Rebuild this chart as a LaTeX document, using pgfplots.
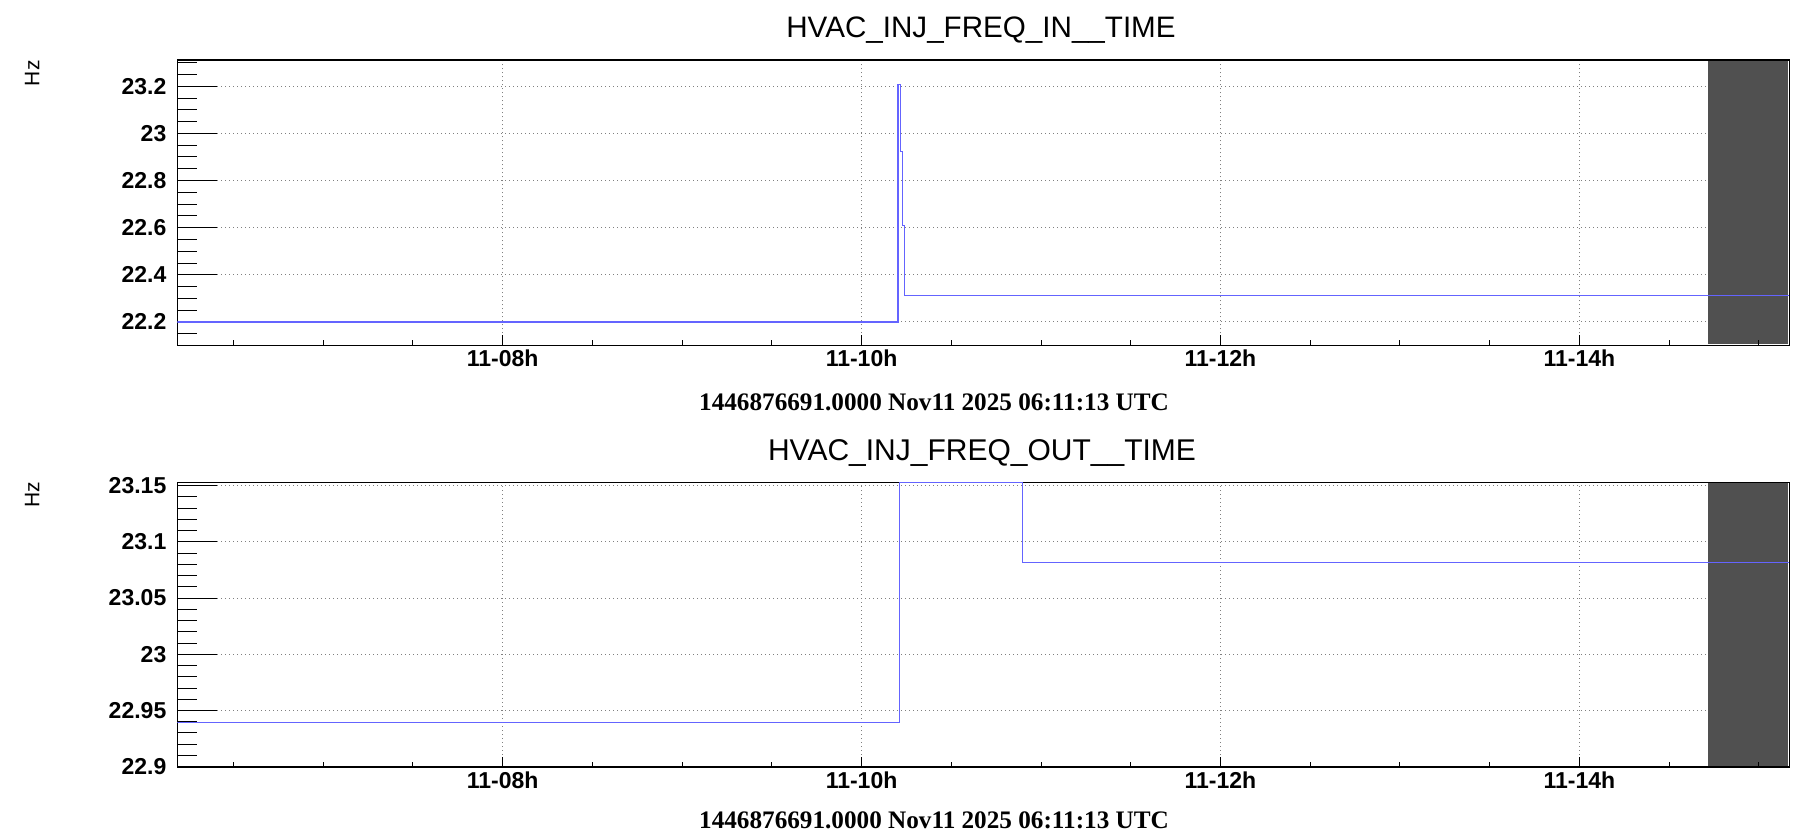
\documentclass[border=0pt]{standalone}
\usepackage{fontspec}
\setmainfont{Liberation Sans}
\newfontfamily\serifbf{Liberation Serif}
\usepackage{pgfplots}
\pgfplotsset{compat=1.18}

\definecolor{rootblue}{RGB}{100,100,255}
\definecolor{hatch}{RGB}{80,80,80}

\pgfplotsset{
  rootbase/.style={
    scale only axis, width=806pt,
    xmin=6.1869, xmax=15.17,
    anchor=south west, clip=true,
  },
  rootstyle/.style={
    rootbase,
    axis line style={line width=0.8pt},
    tick style={line width=0.5pt, black},
    xtick={8,10,12,14}, xticklabels={11-08h,11-10h,11-12h,11-14h},
    xtick style={draw=none},
    xtick pos=bottom, ytick pos=left, tick align=inside,
    major tick length=20pt, minor tick length=10pt,
    xmajorgrids, ymajorgrids,
    major grid style={gray, line width=0.5pt, dash pattern=on 0.5pt off 1.5pt},
    ticklabel style={font=\fontsize{11.5}{11.5}\selectfont\bfseries},
    /pgf/number format/assume math mode=true,
    xticklabel style={anchor=north, inner sep=0pt, yshift=-2.3pt},
    yticklabel style={anchor=east, inner sep=0pt, xshift=-5.3pt},
  },
  xtickoverlay/.style={
    rootbase,
    axis line style={draw=none},
    ytick=\empty,
    xtick={8,10,12,14}, xticklabels={},
    minor xtick={6.5,7,...,15},
    xtick pos=bottom, tick align=inside,
    major tick length=5pt, minor tick length=2.5pt,
    tick style={line width=0.5pt, black},
  },
}

\begin{document}
\begin{tikzpicture}
\path[use as bounding box] (0,0) rectangle (904.5pt,418.5pt);

% ---------------- top panel ----------------
\begin{axis}[rootstyle, at={(88.65pt,245.85pt)}, height=142.5pt,
  ymin=22.101, ymax=23.31,
  ytick={22.2,22.4,22.6,22.8,23,23.2},
  yticklabels={22.2,22.4,22.6,22.8,23,23.2},
  minor ytick={22.15,22.25,22.3,22.35,22.45,22.5,22.55,22.65,22.7,22.75,22.85,22.9,22.95,23.05,23.1,23.15,23.25,23.3},
]
\addplot[fill=hatch, draw=none] coordinates {(14.719,22.1045) (15.165,22.1045) (15.165,23.3066) (14.719,23.3066)} -- cycle;
\addplot[const plot mark left, rootblue, line width=0.55pt] coordinates {
(6.1869,22.2) (10.203,23.208) (10.217,22.925) (10.228,22.61) (10.240,22.313) (15.17,22.313)};
\end{axis}
\begin{axis}[xtickoverlay, at={(88.65pt,245.85pt)}, height=142.5pt, ymin=22.101, ymax=23.31]
\end{axis}

% ---------------- bottom panel ----------------
\begin{axis}[rootstyle, at={(88.65pt,35.15pt)}, height=142.2pt,
  ymin=22.9, ymax=23.153,
  ytick={22.9,22.95,23,23.05,23.1,23.15},
  yticklabels={22.9,22.95,23,23.05,23.1,23.15},
  minor ytick={22.91,22.92,22.93,22.94,22.96,22.97,22.98,22.99,23.01,23.02,23.03,23.04,23.06,23.07,23.08,23.09,23.11,23.12,23.13,23.14},
]
\addplot[fill=hatch, draw=none] coordinates {(14.719,22.9008) (15.165,22.9008) (15.165,23.1522) (14.719,23.1522)} -- cycle;
\addplot[const plot mark left, rootblue, line width=0.55pt] coordinates {
(6.1869,22.9395) (10.212,23.1525) (10.897,23.0818) (15.17,23.0818)};
\end{axis}
\begin{axis}[xtickoverlay, at={(88.65pt,35.15pt)}, height=142.2pt, ymin=22.9, ymax=23.153]
\end{axis}

% ---------------- texts ----------------
\node[anchor=base, inner sep=0pt, font=\fontsize{14.8}{14.8}\selectfont] at (490.5pt,399.5pt) {HVAC\_INJ\_FREQ\_IN\_\_TIME};
\node[anchor=base, inner sep=0pt, font=\fontsize{15}{15}\selectfont] at (491pt,188.5pt) {HVAC\_INJ\_FREQ\_OUT\_\_TIME};
\node[anchor=base, inner sep=0pt, font=\serifbf\bfseries\fontsize{12.6}{12.6}\selectfont] at (467pt,213.5pt) {1446876691.0000 Nov11 2025 06:11:13 UTC};
\node[anchor=base, inner sep=0pt, font=\serifbf\bfseries\fontsize{12.6}{12.6}\selectfont] at (467pt,4.35pt) {1446876691.0000 Nov11 2025 06:11:13 UTC};
\node[rotate=90, anchor=base east, inner sep=0pt, font=\fontsize{10.5}{10.5}\selectfont] at (19.67pt,388.5pt) {Hz};
\node[rotate=90, anchor=base east, inner sep=0pt, font=\fontsize{10.5}{10.5}\selectfont] at (19.67pt,177.65pt) {Hz};
\end{tikzpicture}
\end{document}
